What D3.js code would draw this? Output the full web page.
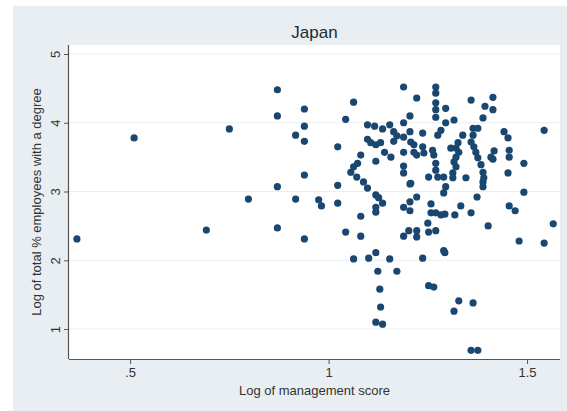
<!DOCTYPE html>
<html><head><meta charset="utf-8">
<script src="https://cdn.jsdelivr.net/npm/d3@7"></script>
<style>
html,body{margin:0;padding:0;background:#fff;}
text{font-family:"Liberation Sans",Arial,sans-serif;}
</style></head>
<body><svg id="c" width="567" height="411"></svg>
<script>
const title = "Japan";
const xLabel = "Log of management score";
const yLabel = "Log of total % employees with a degree";
const xTicks = [0.5, 1, 1.5];
const xTickLabels = [".5", "1", "1.5"];
const yTicks = [1, 2, 3, 4, 5];
const yTickLabels = ["1", "2", "3", "4", "5"];

const mgmt = [
0.366,0.510,0.692,0.750,0.798,0.871,0.871,0.917,0.871,0.871,
0.917,0.939,0.939,0.939,0.939,0.939,0.975,0.982,1.023,1.023,
1.023,1.043,1.063,1.043,1.063,1.098,1.116,1.136,1.154,1.164,
1.172,1.189,1.205,1.237,1.098,1.106,1.119,1.131,1.141,1.157,
1.164,1.207,1.215,1.189,1.215,1.222,1.237,1.240,1.119,1.081,
1.189,1.189,1.207,1.252,1.088,1.098,1.073,1.063,1.056,1.071,
1.119,1.126,1.136,1.119,1.119,1.081,1.081,1.119,1.101,1.154,
1.124,1.172,1.129,1.131,1.119,1.136,1.189,1.202,1.222,1.222,
1.237,1.252,1.265,1.250,1.252,1.270,1.258,1.270,1.283,1.293,
1.290,1.293,1.318,1.333,1.359,1.402,1.328,1.316,1.364,1.359,
1.376,1.480,1.543,1.566,1.455,1.470,1.189,1.205,1.205,1.205,
1.295,1.290,1.389,1.389,1.492,1.374,1.222,1.258,
1.189,1.270,1.270,1.222,1.270,1.270,1.270,1.295,1.359,1.414,
1.394,1.414,1.389,1.205,1.189,1.295,1.316,1.283,1.275,
1.364,1.376,1.364,1.338,1.359,1.366,1.371,1.376,1.384,1.389,
1.391,1.326,1.308,1.321,1.328,1.321,1.316,1.321,1.313,1.313,
1.290,1.275,1.265,1.270,1.270,1.262,1.346,1.409,1.417,1.414,
1.442,1.452,1.455,1.455,1.492,1.452,1.543
];
const degree = [
2.31,3.78,2.44,3.91,2.89,4.48,4.10,3.82,3.07,2.47,
2.89,4.20,3.95,3.73,3.24,2.31,2.88,2.79,3.65,3.09,
2.83,4.05,4.30,2.41,2.02,3.97,3.95,3.91,3.97,3.87,
3.81,3.79,3.87,3.85,3.76,3.71,3.68,3.71,3.57,3.50,
3.73,3.72,3.68,3.57,3.57,3.53,3.65,3.56,3.44,3.53,
3.37,3.27,3.12,3.21,3.14,3.05,3.41,3.36,3.28,3.21,
2.95,2.91,2.83,2.77,2.70,2.64,2.35,2.11,2.03,2.02,
1.84,1.84,1.58,1.32,1.10,1.07,2.35,2.43,2.43,2.34,
2.03,1.63,1.61,2.54,2.41,2.43,2.69,2.69,2.66,2.67,
2.14,2.11,2.66,2.79,2.69,2.50,1.41,1.26,1.38,0.69,
0.69,2.28,2.25,2.53,2.79,2.72,2.77,2.72,2.85,3.11,
3.07,2.98,3.14,3.07,2.99,2.92,2.92,2.82,
4.52,4.52,4.43,4.36,4.29,4.19,4.08,4.21,4.33,4.37,
4.24,4.19,4.07,4.10,4.00,4.00,4.04,3.89,3.82,
3.92,3.92,3.82,3.82,3.72,3.65,3.57,3.49,3.39,3.28,
3.20,3.71,3.63,3.63,3.57,3.50,3.43,3.36,3.27,3.20,
3.21,3.21,3.53,3.41,3.31,3.60,3.20,3.50,3.59,3.47,
3.87,3.78,3.60,3.50,3.41,3.27,3.89
];

const svg = d3.select("#c");
const W = 567, H = 411;
const m = {l:69, r:560, t:45, b:359};

svg.append("rect").attr("x",0).attr("y",0).attr("width",W).attr("height",H).attr("fill","#ffffff");
svg.append("rect").attr("x",13).attr("y",6).attr("width",W-13).attr("height",H-6).attr("fill","#e8eef2");
svg.append("rect").attr("x",m.l).attr("y",m.t).attr("width",m.r-m.l).attr("height",m.b-m.t).attr("fill","#ffffff");

const x = d3.scaleLinear().domain([0.346, 1.583]).range([m.l, m.r]);
const y = d3.scaleLinear().domain([0.564, 5.131]).range([m.b, m.t]);

// gridlines
svg.append("g").selectAll("line").data(yTicks).join("line")
  .attr("x1", m.l).attr("x2", m.r)
  .attr("y1", d=>y(d)).attr("y2", d=>y(d))
  .attr("stroke","#e9eef1").attr("stroke-width",1.2);

// axes
const xAxis = d3.axisBottom(x).tickValues(xTicks).tickFormat((d,i)=>xTickLabels[i]).tickSize(5).tickPadding(4);
const gx = svg.append("g").attr("transform",`translate(0,${m.b})`).call(xAxis);
gx.select(".domain").attr("d",`M${m.l},0.5H${m.r}`).attr("stroke","#555").attr("stroke-width",1.2);
gx.selectAll(".tick line").attr("stroke","#555");
gx.selectAll(".tick text").attr("font-size",13).attr("fill","#333").attr("font-family","Liberation Sans, Arial, sans-serif");

const yAxis = d3.axisLeft(y).tickValues(yTicks).tickFormat((d,i)=>yTickLabels[i]).tickSize(5).tickPadding(4);
const gy = svg.append("g").attr("transform",`translate(${m.l},0)`).call(yAxis);
gy.select(".domain").attr("d",`M-0.5,${m.t}V${m.b}`).attr("stroke","#555").attr("stroke-width",1.2);
gy.selectAll(".tick line").attr("stroke","#555");
gy.selectAll(".tick text")
  .attr("font-size",13).attr("fill","#333").attr("font-family","Liberation Sans, Arial, sans-serif")
  .attr("text-anchor","middle").attr("dy",null).attr("x",null)
  .attr("transform","translate(-14,0) rotate(-90)")
  .attr("y",0).attr("dy","0.35em");

// points
const pts = mgmt.map((v,i)=>({x:v, y:degree[i]}));
svg.append("g").selectAll("circle").data(pts).join("circle")
  .attr("cx", d=>x(d.x)).attr("cy", d=>y(d.y)).attr("r",3.6)
  .attr("fill","#1a476f");

// titles
svg.append("text").attr("x",(m.l+m.r)/2).attr("y",38).attr("text-anchor","middle")
  .attr("font-size",17).attr("fill","#1e2a36").text(title);
svg.append("text").attr("x",(m.l+m.r)/2).attr("y",395).attr("text-anchor","middle")
  .attr("font-size",13).attr("fill","#333").text(xLabel);
svg.append("text").attr("transform",`translate(41,${(m.t+m.b)/2}) rotate(-90)`).attr("text-anchor","middle")
  .attr("font-size",13).attr("fill","#333").text(yLabel);
</script></body></html>
